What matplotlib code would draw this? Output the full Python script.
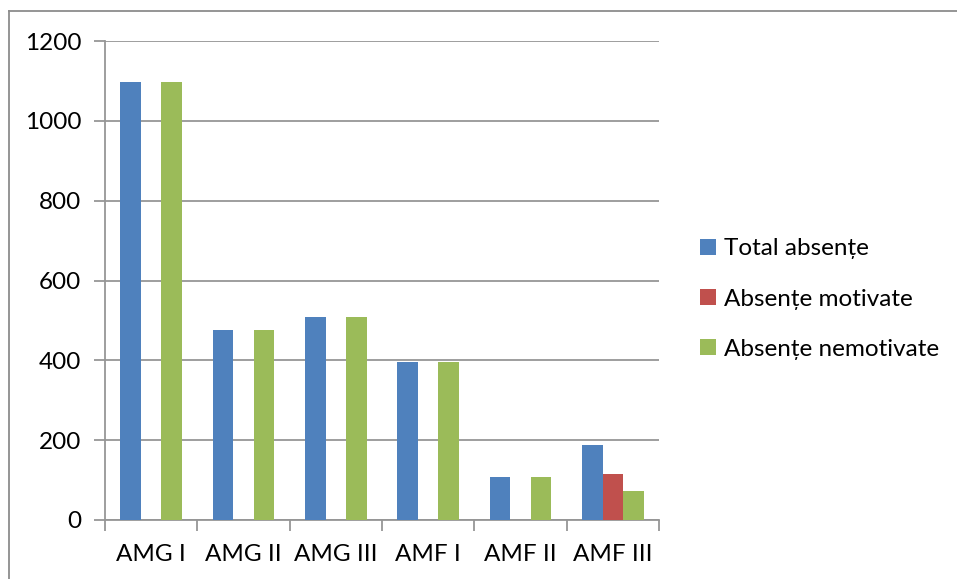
import matplotlib.pyplot as plt
import numpy as np
from matplotlib.lines import Line2D

categories = ['AMG I', 'AMG II', 'AMG III', 'AMF I', 'AMF II', 'AMF III']
total = [1097, 477, 509, 395, 107, 189]
motivate = [0, 0, 0, 0, 0, 116]
nemotivate = [1097, 477, 509, 395, 107, 73]
series_names = ['Total absențe', 'Absențe motivate', 'Absențe nemotivate']
colors = ['#4F81BD', '#C0504D', '#9BBB59']
yticks = [0, 200, 400, 600, 800, 1000, 1200]

plt.rcParams['font.family'] = ['Lato', 'DejaVu Sans']
W, H = 957, 579
fs = 17.5
fig = plt.figure(figsize=(W / 100, H / 100), dpi=100)
ax = fig.add_axes([105 / W, 1 - 520 / H, (659 - 105) / W, (520 - 41) / H])

x = np.arange(len(categories))
w = 1 / 4.5
for i, (vals, name, c) in enumerate(zip([total, motivate, nemotivate], series_names, colors)):
    ax.bar(x + (i - 1) * w, vals, width=w, color=c, label=name, zorder=3)

grid_c = '#969696'
ax.set_xlim(-0.5, len(categories) - 0.5)
ax.set_ylim(0, 1200)
ax.set_yticks(yticks)
ax.set_yticklabels([str(v) for v in yticks], fontsize=fs)
ax.yaxis.grid(True, color=grid_c, linewidth=1.3, zorder=0)
ax.set_xticks(x)
ax.set_xticklabels(categories, fontsize=fs)
ax.set_xticks(np.arange(-0.5, len(categories)), minor=True)
ax.tick_params(axis='x', which='major', length=0, pad=17)
ax.tick_params(axis='x', which='minor', length=8, width=1.3, color=grid_c, direction='out')
ax.tick_params(axis='y', length=8, width=1.3, color=grid_c, direction='out', pad=9)
for s in ['top', 'right']:
    ax.spines[s].set_visible(False)
for s in ['left', 'bottom']:
    ax.spines[s].set_color(grid_c)
    ax.spines[s].set_linewidth(1.3)

handles, labels = ax.get_legend_handles_labels()
fig.legend(handles, labels, loc='center left', bbox_to_anchor=(678 / W, 1 - 299 / H),
           frameon=False, fontsize=fs, handlelength=0.65, handleheight=0.65,
           handletextpad=0.35, labelspacing=1.2)

# outer chart border (only top and left visible in the crop)
border_c = '#8c8c8c'
fig.add_artist(Line2D([9 / W, 1.0], [1 - 11 / H, 1 - 11 / H], transform=fig.transFigure,
                      color=border_c, linewidth=1.3))
fig.add_artist(Line2D([9 / W, 9 / W], [0, 1 - 11 / H], transform=fig.transFigure,
                      color=border_c, linewidth=1.3))

fig.savefig('out.png', dpi=100)
